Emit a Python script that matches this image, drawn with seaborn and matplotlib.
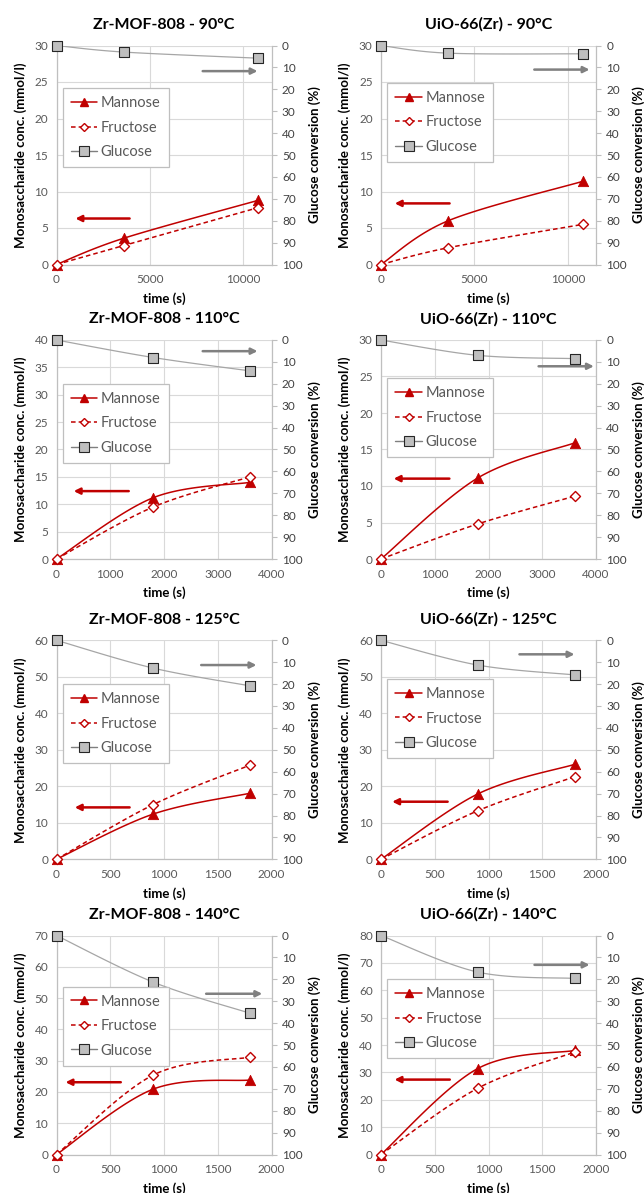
import numpy as np
import matplotlib
matplotlib.use("Agg")
import matplotlib.pyplot as plt
from matplotlib.lines import Line2D
import seaborn as sns

# ---- data -------------------------------------------------------------
TITLES = [
    "Zr-MOF-808 - 90°C", "UiO-66(Zr) - 90°C",
    "Zr-MOF-808 - 110°C", "UiO-66(Zr) - 110°C",
    "Zr-MOF-808 - 125°C", "UiO-66(Zr) - 125°C",
    "Zr-MOF-808 - 140°C", "UiO-66(Zr) - 140°C",
]
TIME_90 = [0, 3600, 10800]
TIME_110 = [0, 1800, 3600]
TIME_125 = [0, 900, 1800]
TIME_140 = [0, 900, 1800]
TIMES = [TIME_90, TIME_90, TIME_110, TIME_110, TIME_125, TIME_125, TIME_140, TIME_140]

# monosaccharide concentrations (mmol/l)
MANNOSE = [
    [0, 3.6, 8.8], [0, 6.0, 11.4],
    [0, 11.2, 14.0], [0, 11.1, 15.9],
    [0, 12.4, 18.1], [0, 17.9, 26.0],
    [0, 20.9, 23.8], [0, 31.4, 38.0],
]
FRUCTOSE = [
    [0, 2.6, 7.8], [0, 2.3, 5.5],
    [0, 9.5, 15.0], [0, 4.8, 8.6],
    [0, 15.0, 25.8], [0, 13.3, 22.6],
    [0, 25.4, 31.1], [0, 24.2, 37.4],
]
# glucose conversion (%)
GLUCOSE_CONV = [
    [0, 3.0, 5.8], [0, 3.5, 3.8],
    [0, 8.0, 14.1], [0, 7.0, 8.5],
    [0, 12.7, 20.8], [0, 11.3, 15.8],
    [0, 21.3, 35.5], [0, 16.7, 19.6],
]
CONC_MAX = [30, 30, 40, 30, 60, 60, 70, 80]
CONC_STEP = [5, 5, 5, 5, 10, 10, 10, 10]
TIME_MAX = [11500, 11500, 4000, 4000, 2000, 2000, 2000, 2000]
TIME_STEP = [5000, 5000, 1000, 1000, 500, 500, 500, 500]

# ---- layout / style ---------------------------------------------------
W, H = 644, 1193
COL_LEFT = [56.5, 381.0]
AX_W = 215.0
ROW_TOP = [45.5, 340.0, 640.3, 935.5]
AX_H = 219.0

LEGEND_TOP = [0.805, 0.83, 0.80, 0.825, 0.80, 0.823, 0.767, 0.80]
RED_ARROW = [(0.34, 0.088, 0.21), (0.319, 0.064, 0.279), (0.336, 0.08, 0.31), (0.318, 0.059, 0.367),
             (0.34, 0.085, 0.237), (0.31, 0.052, 0.263), (0.299, 0.042, 0.33), (0.32, 0.063, 0.342)]
GRAY_ARROW = [(0.68, 0.935, 0.883), (0.713, 0.97, 0.89), (0.68, 0.935, 0.949), (0.733, 0.99, 0.88),
              (0.673, 0.93, 0.887), (0.644, 0.90, 0.936), (0.696, 0.957, 0.734), (0.714, 0.97, 0.866)]

RED = "#C00000"
GRAY_LINE = "#A6A6A6"
GRAY_FACE = "#BFBFBF"
GRAY_EDGE = "#262626"
ARROW_GRAY = "#808080"
TICK_COLOR = "#595959"
GRID = "#D9D9D9"
SPINE = "#BFBFBF"

sns.set_theme(style="white")
plt.rcParams["font.family"] = ["Lato", "DejaVu Sans"]


def smooth(xs, ys, xspan, yspan, n=40):
    """Bezier smoothing through the points (control points at 1/6 of neighbour chords)."""
    P = np.column_stack([np.asarray(xs, float) / xspan, np.asarray(ys, float) / yspan])
    out = []
    t = np.linspace(0, 1, n)[:, None]
    for i in range(len(P) - 1):
        p0 = P[i - 1] if i > 0 else P[i]
        p1, p2 = P[i], P[i + 1]
        p3 = P[i + 2] if i + 2 < len(P) else P[i + 1]
        c1 = p1 + (p2 - p0) / 6.0
        c2 = p2 - (p3 - p1) / 6.0
        seg = (1 - t) ** 3 * p1 + 3 * (1 - t) ** 2 * t * c1 + 3 * (1 - t) * t ** 2 * c2 + t ** 3 * p2
        out.append(seg if i == 0 else seg[1:])
    out = np.vstack(out)
    return out[:, 0] * xspan, out[:, 1] * yspan


fig = plt.figure(figsize=(W / 100, H / 100), dpi=100)

for k in range(8):
    row, col = divmod(k, 2)
    left = COL_LEFT[col] / W
    bottom = 1 - (ROW_TOP[row] + AX_H) / H
    ax = fig.add_axes([left, bottom, AX_W / W, AX_H / H])
    ax2 = ax.twinx()

    t = TIMES[k]
    xmax, ymax = TIME_MAX[k], CONC_MAX[k]

    # primary axis: concentrations
    ax.set_xlim(0, xmax)
    ax.set_ylim(0, ymax)
    ax.set_xticks(np.arange(0, xmax + 1, TIME_STEP[k]))
    ax.set_yticks(np.arange(0, ymax + 0.1, CONC_STEP[k]))
    ax.grid(True, color=GRID, lw=0.8)
    ax.set_axisbelow(True)
    for s in ["top", "right"]:
        ax.spines[s].set_visible(False)
    for s in ["left", "bottom"]:
        ax.spines[s].set_color(SPINE)
        ax.spines[s].set_linewidth(0.9)
    ax.tick_params(axis="both", length=0, labelsize=8.5, labelcolor=TICK_COLOR)
    ax.tick_params(axis="x", pad=7)
    ax.tick_params(axis="y", pad=6)

    xs, ys = smooth(t, MANNOSE[k], xmax, ymax)
    sns.lineplot(x=xs, y=ys, ax=ax, color=RED, lw=1.1, sort=False, estimator=None)
    sns.scatterplot(x=t, y=MANNOSE[k], ax=ax, marker="^", s=55, color=RED,
                    edgecolor=RED, linewidth=0.6, clip_on=False, zorder=5)
    xs, ys = smooth(t, FRUCTOSE[k], xmax, ymax)
    ax.plot(xs, ys, color=RED, lw=1.1, dashes=(3, 2))
    sns.scatterplot(x=t, y=FRUCTOSE[k], ax=ax, marker="D", s=26, color="white",
                    edgecolor=RED, linewidth=1.0, clip_on=False, zorder=6)

    ax.set_xlabel("time (s)", fontsize=9.5, fontweight="bold", color="black", va="center")
    ax.xaxis.set_label_coords(0.5, -34 / AX_H)
    ax.set_ylabel("Monosaccharide conc. (mmol/l)", fontsize=9.5, fontweight="bold",
                  color="black", va="center")
    ax.yaxis.set_label_coords(-36 / AX_W, 0.5)
    ax.set_title(TITLES[k], fontsize=11.5, fontweight="bold", color="black", pad=12)

    # secondary axis: glucose conversion (inverted)
    ax2.set_ylim(100, 0)
    ax2.set_yticks(np.arange(0, 101, 10))
    ax2.grid(False)
    for s in ["top", "left", "bottom"]:
        ax2.spines[s].set_visible(False)
    ax2.spines["right"].set_color(SPINE)
    ax2.spines["right"].set_linewidth(0.9)
    ax2.tick_params(axis="y", length=3.5, width=0.8, color=SPINE, pad=4,
                    labelsize=8.5, labelcolor="#404040", direction="out")
    xs, ys = smooth(t, GLUCOSE_CONV[k], xmax, 100)
    ax2.plot(xs, ys, color=GRAY_LINE, lw=0.9)
    sns.scatterplot(x=t, y=GLUCOSE_CONV[k], ax=ax2, marker="s", s=52, color=GRAY_FACE,
                    edgecolor=GRAY_EDGE, linewidth=0.8, clip_on=False, zorder=5)
    ax2.set_ylabel("Glucose conversion (%)", fontsize=9.5, fontweight="bold", color="black",
                   rotation=90, va="center")
    ax2.yaxis.set_label_coords(1 + 43 / AX_W, 0.5)

    # direction arrows
    x0, x1, y = RED_ARROW[k]
    ax2.annotate("", xy=(x1, y), xytext=(x0, y), xycoords="axes fraction",
                 arrowprops=dict(arrowstyle="-|>", color=RED, lw=1.8, mutation_scale=9,
                                 shrinkA=0, shrinkB=0))
    x0, x1, y = GRAY_ARROW[k]
    ax2.annotate("", xy=(x1, y), xytext=(x0, y), xycoords="axes fraction",
                 arrowprops=dict(arrowstyle="-|>", color=ARROW_GRAY, lw=1.8, mutation_scale=9,
                                 shrinkA=0, shrinkB=0))

    handles = [
        Line2D([], [], color=RED, lw=1.1, marker="^", markersize=6, markerfacecolor=RED,
               markeredgecolor=RED),
        Line2D([], [], color=RED, lw=1.1, dashes=(3, 2), marker="D", markersize=4.2,
               markerfacecolor="white", markeredgecolor=RED, markeredgewidth=1.0),
        Line2D([], [], color="#7F7F7F", lw=1.0, marker="s", markersize=6.5,
               markerfacecolor=GRAY_FACE, markeredgecolor=GRAY_EDGE, markeredgewidth=0.8),
    ]
    leg = ax2.legend(handles, ["Mannose", "Fructose", "Glucose"], loc="upper left",
                     bbox_to_anchor=(0.03, LEGEND_TOP[k]), borderaxespad=0, fontsize=10.5,
                     handlelength=1.8, handletextpad=0.25, labelspacing=0.72,
                     borderpad=0.55, frameon=True, fancybox=False, framealpha=1)
    leg.get_frame().set_edgecolor(SPINE)
    leg.get_frame().set_linewidth(0.9)
    for txt in leg.get_texts():
        txt.set_color(TICK_COLOR)

fig.savefig("out.png", dpi=100, facecolor="white")
